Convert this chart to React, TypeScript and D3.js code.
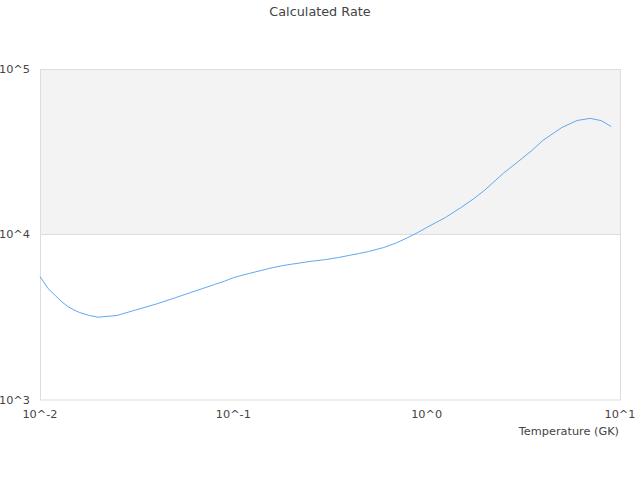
import React, { useEffect, useRef } from 'react';
import * as d3 from 'd3';

// Temperature grid (GK) and calculated rate
const temperatures = [
  0.01, 0.011, 0.012, 0.013, 0.014, 0.015, 0.016, 0.018, 0.02, 0.025, 0.03,
  0.04, 0.05, 0.06, 0.07, 0.08, 0.09, 0.1, 0.11, 0.12, 0.13, 0.14, 0.15, 0.16,
  0.18, 0.2, 0.25, 0.3, 0.35, 0.4, 0.45, 0.5, 0.6, 0.7, 0.8, 0.9, 1, 1.25, 1.5,
  1.75, 2, 2.5, 3, 3.5, 4, 5, 6, 7, 8, 9,
];
const rates = [
  5573, 4718, 4280, 3909, 3657, 3498, 3379, 3241, 3164, 3241, 3450,
  3803, 4145, 4457, 4731, 4988, 5222, 5483, 5654, 5805, 5943, 6069, 6197, 6310,
  6488, 6614, 6878, 7053, 7262, 7487, 7688, 7894, 8345, 8910, 9592, 10283, 11024, 12665, 14522,
  16434, 18576, 23524, 27810, 32178, 37090, 44310, 48850, 50300, 48780, 44940,
];
const xTicks = [0.01, 0.1, 1, 10];
const xTickLabels = ['10^-2', '10^-1', '10^0', '10^1'];
const yTicks = [1000, 10000, 100000];
const yTickLabels = ['10^3', '10^4', '10^5'];

const App: React.FC = () => {
  const svgRef = useRef<SVGSVGElement>(null);

  useEffect(() => {
    if (!svgRef.current) return;
    const svg = d3.select(svgRef.current);
    svg.selectAll('*').remove();

    const width = 640;
    const height = 480;
    const margin = { top: 69, right: 20, bottom: 80, left: 40 };
    const font = 'DejaVu Sans, sans-serif';
    const textColor = '#444';

    const x = d3.scaleLog().domain([0.01, 10]).range([margin.left, width - margin.right]);
    const y = d3.scaleLog().domain([1000, 100000]).range([height - margin.bottom, margin.top]);

    // alternating band between 10^4 and 10^5
    svg.append('rect')
      .attr('x', x(0.01))
      .attr('y', y(100000))
      .attr('width', x(10) - x(0.01))
      .attr('height', y(10000) - y(100000))
      .attr('fill', '#f3f3f3');

    // grid line + frame
    svg.append('line')
      .attr('x1', x(0.01)).attr('x2', x(10))
      .attr('y1', y(10000)).attr('y2', y(10000))
      .attr('stroke', '#dddddd');
    svg.append('rect')
      .attr('x', x(0.01) + 0.5)
      .attr('y', y(100000) + 0.5)
      .attr('width', x(10) - x(0.01))
      .attr('height', y(1000) - y(100000) - 0.5)
      .attr('fill', 'none')
      .attr('stroke', '#dddddd');

    const line = d3.line<number>()
      .x((_, i) => x(temperatures[i]))
      .y(d => y(d));

    svg.append('path')
      .datum(rates)
      .attr('fill', 'none')
      .attr('stroke', '#5ea9ef')
      .attr('stroke-width', 1)
      .attr('d', line);

    // y tick labels
    svg.append('g')
      .selectAll('text')
      .data(yTicks)
      .join('text')
      .attr('x', margin.left - 10)
      .attr('y', d => y(d))
      .attr('dy', '0.35em')
      .attr('text-anchor', 'end')
      .attr('font-family', font)
      .attr('font-size', 11.3)
      .attr('fill', textColor)
      .text((_, i) => yTickLabels[i]);

    // x tick labels
    svg.append('g')
      .selectAll('text')
      .data(xTicks)
      .join('text')
      .attr('x', d => x(d))
      .attr('y', y(1000) + 18)
      .attr('text-anchor', 'middle')
      .attr('font-family', font)
      .attr('font-size', 11.3)
      .attr('fill', textColor)
      .text((_, i) => xTickLabels[i]);

    svg.append('text')
      .attr('x', x(10) - 1)
      .attr('y', 435)
      .attr('text-anchor', 'end')
      .attr('font-family', font)
      .attr('font-size', 11.3)
      .attr('fill', textColor)
      .text('Temperature (GK)');

    svg.append('text')
      .attr('x', width / 2)
      .attr('y', 16)
      .attr('text-anchor', 'middle')
      .attr('font-family', font)
      .attr('font-size', 12.8)
      .attr('fill', textColor)
      .text('Calculated Rate');
  }, []);

  return (
    <svg
      ref={svgRef}
      width={640}
      height={480}
      style={{ position: 'absolute', left: 0, top: 0, background: '#fff' }}
    />
  );
};

export default App;
